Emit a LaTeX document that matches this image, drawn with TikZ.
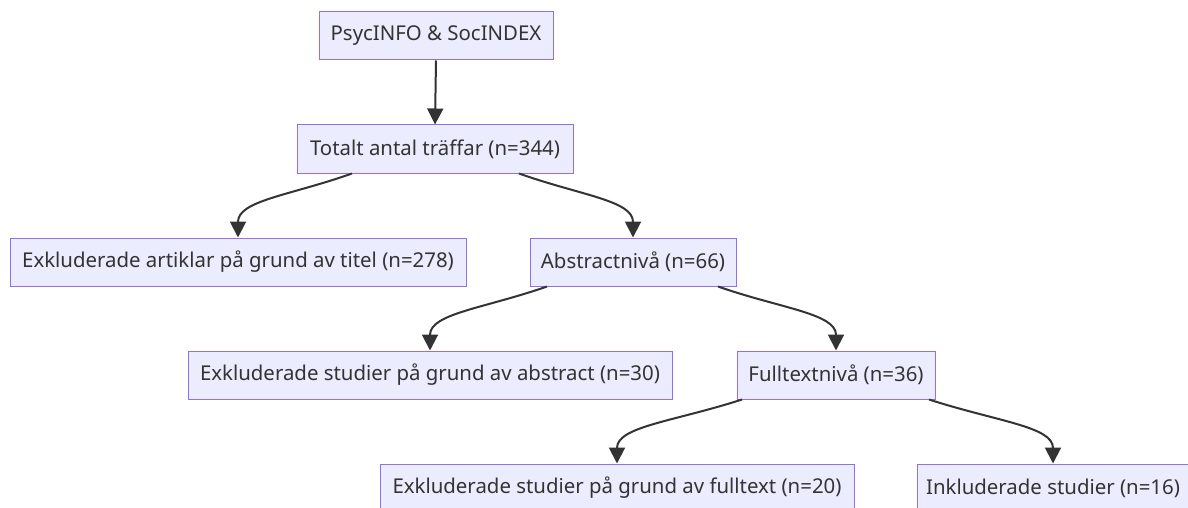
\documentclass[tikz,border=0pt]{standalone}
\usepackage{fontspec}
\setmainfont{Noto Sans}
\usetikzlibrary{arrows.meta,calc}
\definecolor{nfill}{HTML}{ECECFF}
\definecolor{nborder}{HTML}{9370DB}
\definecolor{ecol}{HTML}{333333}
\begin{document}
\begin{tikzpicture}[x=1pt,y=1pt,
  box/.style={draw=nborder, fill=nfill, line width=1pt, minimum height=48pt,
    inner sep=0pt, text=ecol, font=\fontsize{20.4}{24}\selectfont},
  edge/.style={draw=ecol, line width=2pt, -{Triangle[length=16pt,width=16pt]}}]
\useasboundingbox (0,0) rectangle (1188,-508);
\fill[white] (0,0) rectangle (1188,-508);
\node[box, minimum width=234pt] (n1) at (436,-36) {PsycINFO \& SocINDEX};
\node[box, minimum width=276pt] (n2) at (435,-149) {Totalt antal träffar (n=344)};
\node[box, minimum width=456pt] (n3) at (238,-262) {Exkluderade artiklar på grund av titel (n=278)};
\node[box, minimum width=206pt] (n4) at (633,-262) {Abstractnivå (n=66)};
\node[box, minimum width=484pt] (n5) at (430,-375) {Exkluderade studier på grund av abstract (n=30)};
\node[box, minimum width=198pt] (n6) at (836,-375) {Fulltextnivå (n=36)};
\node[box, minimum width=474pt] (n7) at (617,-488) {Exkluderade studier på grund av fulltext (n=20)};
\node[box, minimum width=272pt] (n8) at (1053,-488) {Inkluderade studier (n=16)};

\draw[edge] (n1.south) -- (n2.north);

\coordinate (s2) at ([xshift=-83pt]n2.south);
\coordinate (s3) at ([xshift=84pt]n2.south);
\coordinate (s4) at ([xshift=-86pt]n4.south);
\coordinate (s5) at ([xshift=85pt]n4.south);
\coordinate (s6) at ([xshift=-94pt]n6.south);
\coordinate (s7) at ([xshift=93pt]n6.south);

\draw[edge] (s2) .. controls ($(s2)+(-62,-22)$) and ($(n3.north)+(0,37)$) .. (n3.north);
\draw[edge] (s3) .. controls ($(s3)+(62,-22)$) and ($(n4.north)+(0,37)$) .. (n4.north);
\draw[edge] (s4) .. controls ($(s4)+(-63,-22)$) and ($(n5.north)+(0,37)$) .. (n5.north);
\draw[edge] (s5) .. controls ($(s5)+(63,-22)$) and ($(n6.north)+(0,37)$) .. (n6.north);
\draw[edge] (s6) .. controls ($(s6)+(-68,-22)$) and ($(n7.north)+(0,37)$) .. (n7.north);
\draw[edge] (s7) .. controls ($(s7)+(68,-22)$) and ($(n8.north)+(0,37)$) .. (n8.north);
\end{tikzpicture}
\end{document}
